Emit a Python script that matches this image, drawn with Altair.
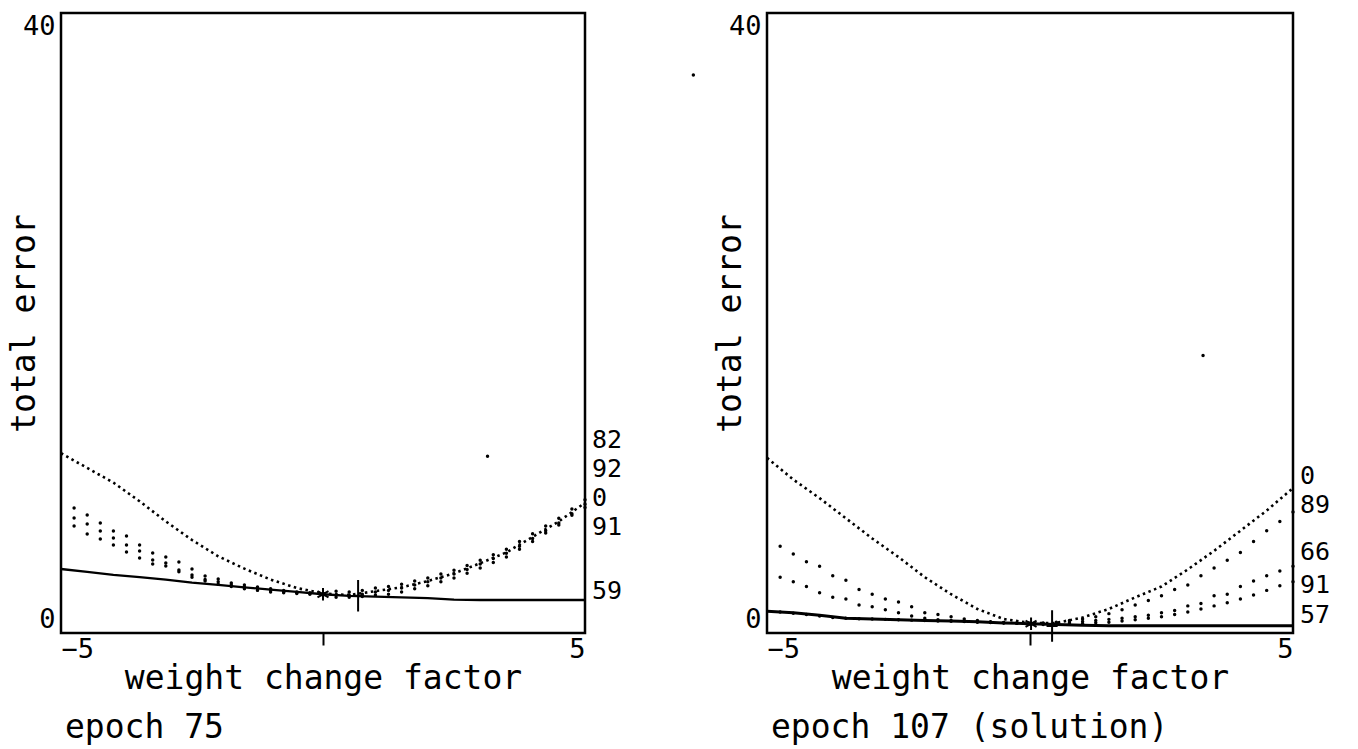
import altair as alt
import pandas as pd

# ---------------- data ----------------
X_DENSE = [-5, -4.5, -4, -3.5, -3, -2.5, -2, -1.5, -1, -0.5, 0,
           0.5, 1, 1.5, 2, 2.5, 3, 3.5, 4, 4.5, 5]
X_SPARSE = [-4.75, -4.5, -4.25, -4, -3.75, -3.5, -3.25, -3, -2.75, -2.5,
            -2.25, -2, -1.75, -1.5, -1.25, -1, -0.75, -0.5, -0.25, 0,
            0.25, 0.5, 0.75, 1, 1.25, 1.5, 1.75, 2, 2.25, 2.5,
            2.75, 3, 3.25, 3.5, 3.75, 4, 4.25, 4.5, 4.75, 5]

# epoch 75 (left panel)
L_ERR_0 = [11.6, 10.65, 9.7, 8.5, 7.2, 6.0, 4.95, 4.15, 3.45, 2.9, 2.55,
           2.45, 2.7, 2.95, 3.35, 3.85, 4.5, 5.2, 6.2, 7.2, 8.4]
L_ERR_59 = [4.13, 3.95, 3.75, 3.6, 3.45, 3.25, 3.1, 2.95, 2.8, 2.65, 2.5,
            2.4, 2.35, 2.3, 2.25, 2.15, 2.13, 2.13, 2.13, 2.13, 2.13]
L_ERR_82 = [8.06, 7.61, 7.10, 6.58, 6.26, 5.68, 5.16, 4.90, 4.58, 4.13,
            3.68, 3.48, 3.23, 3.10, 2.97, 2.85, 2.75, 2.65, 2.60, 2.55,
            2.70, 2.65, 2.75, 2.90, 3.00, 3.15, 3.35, 3.55, 3.80, 4.05,
            4.35, 4.70, 5.05, 5.40, 5.90, 6.40, 6.90, 7.40, 8.00, 8.60]
L_ERR_92 = [7.42, 7.03, 6.58, 6.13, 5.68, 5.29, 4.71, 4.52, 4.06, 3.74,
            3.45, 3.30, 3.10, 2.95, 2.85, 2.75, 2.65, 2.60, 2.55, 2.50,
            2.45, 2.45, 2.50, 2.65, 2.75, 2.90, 3.10, 3.30, 3.55, 3.80,
            4.10, 4.45, 4.80, 5.15, 5.60, 6.10, 6.60, 7.10, 7.70, 8.30]
L_ERR_91 = [6.90, 6.39, 6.06, 5.68, 5.23, 4.84, 4.45, 4.32, 3.95, 3.60,
            3.35, 3.15, 3.00, 2.85, 2.75, 2.65, 2.60, 2.55, 2.50, 2.45,
            2.30, 2.30, 2.35, 2.45, 2.50, 2.65, 2.85, 3.05, 3.30, 3.55,
            3.85, 4.20, 4.55, 4.90, 5.40, 5.90, 6.45, 6.97, 7.60, 8.10]
L_LABELS = ["82", "92", "0", "91", "59"]
L_LABEL_AT = [12.45, 10.6, 8.72, 6.85, 2.71]
L_STAR = (0.0, 2.5)
L_PLUS = (0.67, 2.4)
L_STRAY_X = [3.14]
L_STRAY_Y = [11.4]

# epoch 107 (right panel)
R_ERR_0 = [11.3, 9.9, 8.7, 7.4, 6.1, 4.9, 3.6, 2.5, 1.55, 0.9, 0.65,
           0.65, 1.0, 1.55, 2.3, 3.0, 4.1, 5.3, 6.6, 7.9, 9.35]
R_ERR_57 = [1.4, 1.3, 1.15, 0.95, 0.9, 0.85, 0.8, 0.78, 0.72, 0.65, 0.6,
            0.55, 0.5, 0.46, 0.46, 0.46, 0.46, 0.46, 0.46, 0.46, 0.46]
R_ERR_89 = [5.6, 5.1, 4.6, 4.3, 3.7, 3.4, 2.8, 2.5, 2.2, 2.0,
            1.7, 1.3, 1.2, 1.05, 0.9, 0.8, 0.72, 0.68, 0.65, 0.62,
            0.65, 0.70, 0.80, 0.90, 1.05, 1.25, 1.50, 1.80, 2.10, 2.40,
            2.80, 3.10, 3.70, 4.20, 4.70, 5.20, 5.90, 6.60, 7.20, 7.80]
R_ERR_66 = [3.6, 3.3, 3.0, 2.6, 2.3, 2.2, 1.8, 1.7, 1.5, 1.3,
            1.1, 0.95, 0.85, 0.8, 0.75, 0.7, 0.68, 0.65, 0.62, 0.6,
            0.62, 0.65, 0.70, 0.75, 0.80, 0.88, 0.95, 1.05, 1.15, 1.30,
            1.45, 1.75, 1.90, 2.40, 2.50, 3.00, 3.35, 3.70, 4.00, 4.30]
R_ERR_91 = [1.35, 1.28, 1.2, 1.1, 1.0, 0.95, 0.92, 0.9, 0.88, 0.85,
            0.83, 0.8, 0.78, 0.76, 0.74, 0.72, 0.7, 0.66, 0.63, 0.6,
            0.55, 0.58, 0.60, 0.62, 0.66, 0.70, 0.78, 0.86, 0.95, 1.05,
            1.20, 1.35, 1.55, 1.75, 1.95, 2.20, 2.45, 2.75, 3.05, 3.30]
R_LABELS = ["0", "89", "66", "91", "57"]
R_LABEL_AT = [10.1, 8.26, 5.2, 3.1, 1.16]
R_STAR = (0.02, 0.6)
R_PLUS = (0.42, 0.45)
R_STRAY_X = [3.29, -6.4]
R_STRAY_Y = [17.9, 36.0]

X_DOMAIN = [-5, 5]
Y_DOMAIN = [0, 40]

FONT = "DejaVu Sans Mono"
PH = 620

STAR_PATH = "M0,-1V1M-0.87,-0.5L0.87,0.5M-0.87,0.5L0.87,-0.5"
PLUS_PATH = "M0,-1V1M-0.35,0H0.35"


def panel(width, err0, err_solid, solid_w, sparse, labels, label_at, star, plus,
          stray_x, stray_y, caption):
    xs = alt.Scale(domain=X_DOMAIN, nice=False, zero=False)
    ys = alt.Scale(domain=Y_DOMAIN, nice=False, zero=False)
    x_axis = alt.Axis(
        values=[-5, 0, 5], labelExpr="datum.value == 0 ? '' : datum.label",
        labelFlush=True, grid=False, domain=False, tickColor="black",
        tickWidth=2, tickSize=12,
        tickOpacity={"condition": {"test": "datum.value == 0", "value": 1}, "value": 0},
        labelFont=FONT, labelFontSize=27, labelColor="black", labelPadding=-9,
        title="weight change factor", titleFont=FONT, titleFontSize=33,
        titleFontWeight="normal", titleColor="black", titlePadding=0)
    y_axis = alt.Axis(
        values=[0, 40], labelFlush=True, grid=False, domain=False, ticks=False,
        labelFont=FONT, labelFontSize=27, labelColor="black", labelPadding=6,
        title="total error", titleFont=FONT, titleFontSize=33,
        titleFontWeight="normal", titleColor="black",
        titleX=-27, titleY=PH / 2, titleAngle=270, titleBaseline="alphabetic",
        titleAlign="center")

    dense = pd.DataFrame({"x": X_DENSE, "e0": err0, "es": err_solid})
    base = alt.Chart(dense)
    dotted = base.mark_line(color="black", strokeWidth=2.6, strokeDash=[2.5, 3.5]).encode(
        x=alt.X("x:Q", scale=xs, axis=x_axis),
        y=alt.Y("e0:Q", scale=ys, axis=y_axis))
    solid = base.mark_line(color="black", strokeWidth=solid_w).encode(
        x=alt.X("x:Q", scale=xs), y=alt.Y("es:Q", scale=ys))

    rows = []
    for name, vals in sparse:
        for xv, yv in zip(X_SPARSE, vals):
            rows.append({"x": xv, "e": yv, "s": name})
    pts = alt.Chart(pd.DataFrame(rows)).mark_circle(
        color="black", size=12, opacity=1).encode(
        x=alt.X("x:Q", scale=xs), y=alt.Y("e:Q", scale=ys), detail="s:N")

    lab = pd.DataFrame({"x": [X_DENSE[-1]] * len(labels), "e": label_at, "t": labels})
    texts = alt.Chart(lab).mark_text(
        align="left", baseline="middle", dx=7, font=FONT, fontSize=25,
        color="black").encode(
        x=alt.X("x:Q", scale=xs), y=alt.Y("e:Q", scale=ys), text="t:N")

    mk = pd.DataFrame({"x": [star[0]], "e": [star[1]]})
    star_m = alt.Chart(mk).mark_point(
        shape=STAR_PATH, size=160, stroke="black", strokeWidth=2,
        filled=False, opacity=1).encode(
        x=alt.X("x:Q", scale=xs), y=alt.Y("e:Q", scale=ys))
    pk = pd.DataFrame({"x": [plus[0]], "e": [plus[1]]})
    plus_m = alt.Chart(pk).mark_point(
        shape=PLUS_PATH, size=1000, stroke="black", strokeWidth=2,
        filled=False, opacity=1).encode(
        x=alt.X("x:Q", scale=xs), y=alt.Y("e:Q", scale=ys))

    sd = pd.DataFrame({"x": stray_x, "e": stray_y})
    stray = alt.Chart(sd).mark_circle(color="black", size=12, opacity=1).encode(
        x=alt.X("x:Q", scale=xs), y=alt.Y("e:Q", scale=ys))

    return alt.layer(dotted, solid, pts, texts, star_m, plus_m, stray).properties(
        width=width, height=PH,
        title=alt.TitleParams(caption, orient="bottom", anchor="start",
                              frame="group", dx=4, offset=17, font=FONT,
                              fontSize=33, fontWeight="normal", color="black"))


left = panel(524, L_ERR_0, L_ERR_59, 2.3,
             [("82", L_ERR_82), ("92", L_ERR_92), ("91", L_ERR_91)],
             L_LABELS, L_LABEL_AT, L_STAR, L_PLUS, L_STRAY_X, L_STRAY_Y,
             "epoch 75")
right = panel(526, R_ERR_0, R_ERR_57, 3,
              [("89", R_ERR_89), ("66", R_ERR_66), ("91", R_ERR_91)],
              R_LABELS, R_LABEL_AT, R_STAR, R_PLUS, R_STRAY_X, R_STRAY_Y,
              "epoch 107 (solution)")

chart = alt.hconcat(left, right, spacing=66).properties(
    padding={"left": 6, "top": 10, "right": 0, "bottom": 0},
    background="white"
).configure_view(stroke="black", strokeWidth=2.5)

chart.save("out.html", embed_options={"renderer": "svg", "actions": False})
